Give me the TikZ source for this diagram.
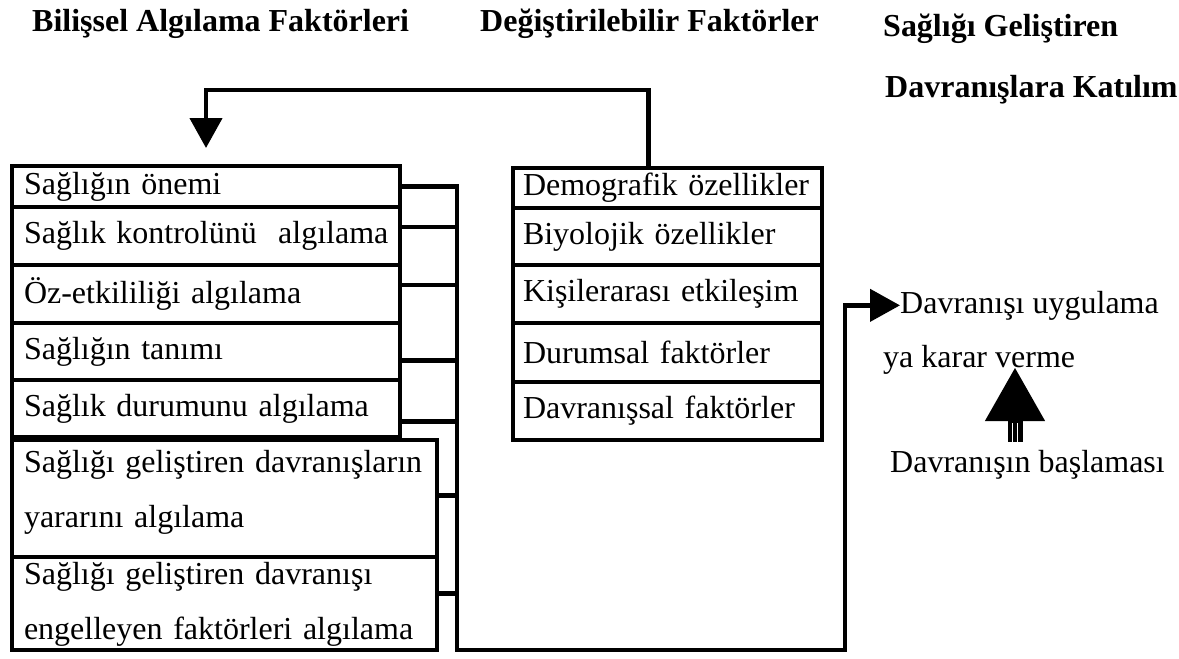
\documentclass[tikz,border=0pt]{standalone}
\usepackage{fontspec}
\setmainfont{Liberation Serif}
\usetikzlibrary{arrows.meta}
\tikzset{cell/.style={draw, line width=4.5pt, rectangle, anchor=north west, outer sep=0pt,
    inner xsep=12pt, inner ysep=0pt, align=left, font=\fontsize{32}{55}\selectfont},
  lcell/.style={cell, minimum width=388pt, text width=364pt},
  wcell/.style={cell, minimum width=425pt, text width=401pt},
  mcell/.style={cell, inner xsep=10pt, minimum width=309pt, text width=289pt},
  wire/.style={line width=4.5pt},
  head/.style={-{Triangle[length=30pt,width=32pt]}},
  label/.style={anchor=base west, inner sep=0pt, font=\fontsize{32}{38}\selectfont},
  heading/.style={label, font=\fontsize{32}{38}\selectfont\bfseries}}

\begin{document}
\begin{tikzpicture}[x=1pt, y=-1pt]
    \useasboundingbox (0,0) rectangle (1179,659);
    % titles
    \node [heading] (t1) at (32,31) {Bilişsel Algılama Faktörleri};
    \node [heading] (t2) at (480,31) {Değiştirilebilir Faktörler};
    \node [heading] (t3) at (883,36) {Sağlığı Geliştiren};
    \node [heading] (t4) at (885,97) {Davranışlara Katılım};
    % left column
    \node [lcell, minimum height=41pt] (s1) at (12,166) {\mbox{Sağlığın önemi}};
    \node [lcell, minimum height=58pt] (s2) at (12,207) {\mbox{Sağlık kontrolünü\ \ algılama}};
    \node [lcell, minimum height=58pt] (s3) at (12,265) {\mbox{Öz-etkililiği algılama}};
    \node [lcell, minimum height=57pt] (s4) at (12,323) {\mbox{Sağlığın tanımı}};
    \node [lcell, minimum height=57pt] (s5) at (12,380) {\mbox{Sağlık durumunu algılama}};
    \node [wcell, minimum height=117pt, text depth=75pt] (s6) at (12,440)
      {Sağlığı geliştiren davranışların\\ yararını algılama};
    \node [wcell, minimum height=93pt, text depth=61pt] (s7) at (12,557)
      {Sağlığı geliştiren davranışı\\ engelleyen faktörleri algılama};
    % middle column
    \node [mcell, minimum height=40pt] (m1) at (513,168) {\mbox{Demografik özellikler}};
    \node [mcell, minimum height=57pt] (m2) at (513,208) {\mbox{Biyolojik özellikler}};
    \node [mcell, minimum height=58pt] (m3) at (513,265) {\mbox{Kişilerarası etkileşim}};
    \node [mcell, minimum height=59pt] (m4) at (513,323) {\mbox{Durumsal faktörler}};
    \node [mcell, minimum height=58pt] (m5) at (513,382) {\mbox{Davranışsal faktörler}};
    % right side
    \node [label] (act) at (900,313) {Davranışı uygulama};
    \node [label] (dec) at (883,367) {ya karar verme};
    \node [label] (start) at (890,472) {Davranışın başlaması};
    \coordinate (bus) at (457,650);
    \coordinate (c1) at (845,650);
    \coordinate (fb) at (0,90);
    \coordinate (tip) at (1015,367);
    \draw [wire, head] (s1.east) -- (s1.east -| bus) -- (bus) -- (c1) |- (act.west);
    \foreach \n/\s in {s2/9, s3/9, s4/-9, s5/-13, s6/3, s7/10}
      \draw [wire] ([yshift=\s pt]\n.east) -- ([yshift=\s pt]\n.east -| bus);
    \draw [wire, head, shorten >=18pt] ([xshift=-19pt]m1.north) |- (s1.north |- fb) -- (s1.north);
    \draw [line width=15pt, -{Triangle[length=54pt,width=56pt]}, shorten <=8pt]
      (start.north -| tip) -- (tip);
    \foreach \d in {-2.5,2.5}
      \draw [white, line width=1.5pt] ([xshift=\d pt]tip) ++(0,56) -- ++(0,19);
  \end{tikzpicture}
\end{document}
